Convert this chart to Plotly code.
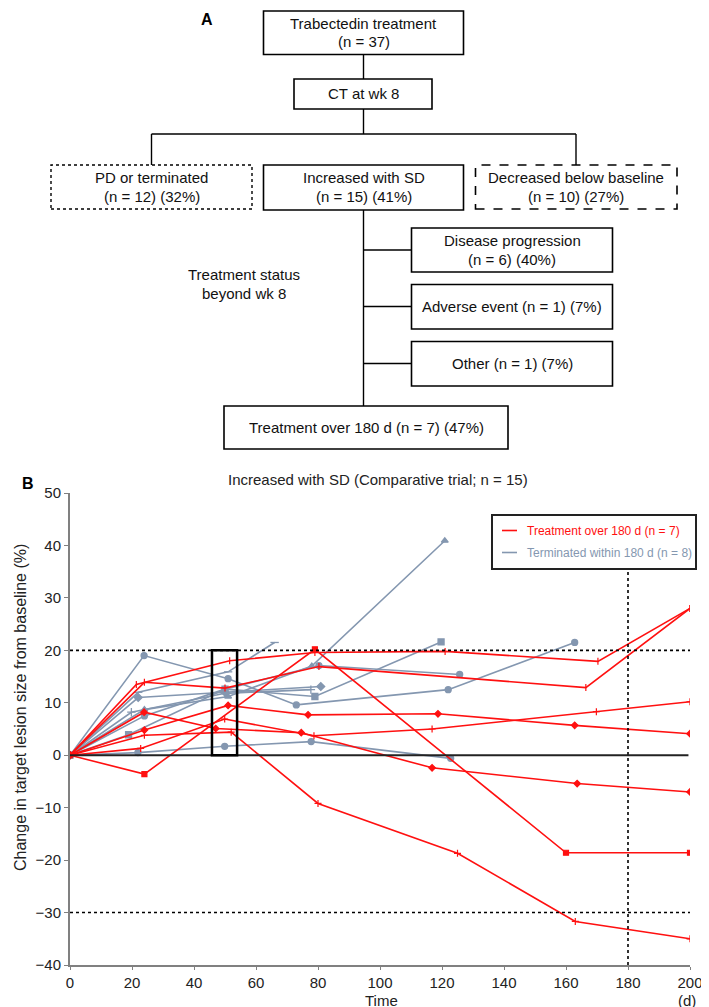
import plotly.graph_objects as go

# ---------------- data (panel B) ----------------
red_days = [
    [0, 24, 79, 160, 200],
    [0, 24, 52, 80, 125, 163, 200],
    [0, 22.8, 49.9, 78.7, 116.8, 169.8, 200],
    [0, 24, 51, 76.8, 118.7, 162.8, 200],
    [0, 23.9, 47, 74.6, 116.8, 163.6, 200],
    [0, 21.4, 51.5, 79, 121, 170.3, 200],
    [0, 24, 50, 80.3, 166.4, 200],
]
red_vals = [
    [0, -3.6, 20.2, -18.6, -18.6],
    [0, 3.8, 4.4, -9.2, -18.7, -31.7, -35.0],
    [0, 1.3, 6.9, 3.7, 5.0, 8.3, 10.2],
    [0, 4.8, 9.5, 7.7, 7.9, 5.7, 4.1],
    [0, 8.2, 5.1, 4.3, -2.4, -5.4, -7.0],
    [0, 13.5, 18.0, 19.6, 19.8, 17.9, 28.0],
    [0, 13.9, 12.8, 16.9, 12.9, 28.0],
]
red_symbols = ["square", "cross-thin", "cross-thin", "diamond", "diamond", "line-ns", "line-ns"]

gray_days = [
    [0, 24, 51, 78, 120.9],
    [0, 18.9, 50, 79, 119.7],
    [0, 23.9, 51, 73, 122, 162.8],
    [0, 24, 50, 80.3, 125.7],
    [0, 22, 51, 66],
    [0, 22, 50, 80.9],
    [0, 19.8, 50, 77.7],
    [0, 21.9, 49.9, 77.8, 122.8],
]
gray_vals = [
    [0, 8.7, 11.2, 17.0, 40.9],
    [0, 3.9, 12.6, 11.2, 21.6],
    [0, 19.0, 14.6, 9.6, 12.5, 21.5],
    [0, 7.5, 12.6, 17.1, 15.4],
    [0, 12.0, 15.9, 21.5],
    [0, 11.0, 12.0, 13.1],
    [0, 8.2, 11.8, 12.5],
    [0, 0.5, 1.7, 2.6, -0.6],
]
gray_symbols = ["triangle-up", "square", "circle", "circle", "line-ew", "diamond", "cross-thin", "circle"]

x_ticks = [0, 20, 40, 60, 80, 100, 120, 140, 160, 180, 200]
y_ticks = [-40, -30, -20, -10, 0, 10, 20, 30, 40, 50]
legend_labels = ["Treatment over 180 d (n = 7)", "Terminated within 180 d (n = 8)"]

RED = "#ff1010"
GRAY = "#8497b0"

W, H = 709, 1007
PL, PR, PT, PB = 62, 682, 485, 957


def px(x):
    return (x - PL) / (PR - PL)


def py(y):
    return (PB - y) / (PB - PT)


fig = go.Figure()

for d, v, s in zip(gray_days, gray_vals, gray_symbols):
    fig.add_trace(go.Scatter(
        x=d, y=v, mode="lines+markers", showlegend=False,
        line=dict(color=GRAY, width=1.6),
        marker=dict(symbol=s, size=6, color=GRAY, line=dict(color=GRAY, width=1.3)),
    ))

for d, v, s in zip(red_days, red_vals, red_symbols):
    fig.add_trace(go.Scatter(
        x=d, y=v, mode="lines+markers", showlegend=False,
        line=dict(color=RED, width=1.6),
        marker=dict(symbol=s, size=5, color=RED, line=dict(color=RED, width=1.2)),
    ))

shapes = []
# reference lines
shapes.append(dict(type="line", xref="x", yref="y", x0=0, x1=200, y0=20, y1=20,
                   line=dict(color="black", width=1.6, dash="dot")))
shapes.append(dict(type="line", xref="x", yref="y", x0=0, x1=200, y0=-30, y1=-30,
                   line=dict(color="black", width=1.6, dash="dot")))
shapes.append(dict(type="line", xref="x", yref="y", x0=180, x1=180, y0=-40, y1=35.4,
                   line=dict(color="black", width=1.6, dash="dot")))
shapes.append(dict(type="line", xref="x", yref="y", x0=0, x1=199.5, y0=0, y1=0,
                   line=dict(color="#222222", width=2)))
# highlight box at wk 8
shapes.append(dict(type="rect", xref="x", yref="y", x0=45.8, x1=53.9, y0=0, y1=20,
                   line=dict(color="black", width=2.5)))

# legend box (drawn manually)
shapes.append(dict(type="rect", xref="paper", yref="paper", x0=px(484), x1=px(688),
                   y0=py(561), y1=py(507), line=dict(color="#222222", width=2),
                   fillcolor="white", layer="above"))
shapes.append(dict(type="line", xref="paper", yref="paper", x0=px(494), x1=px(509),
                   y0=py(522.5), y1=py(522.5), line=dict(color=RED, width=1.6)))
shapes.append(dict(type="line", xref="paper", yref="paper", x0=px(494), x1=px(509),
                   y0=py(544.5), y1=py(544.5), line=dict(color=GRAY, width=1.6)))

# ---------------- flowchart (panel A) ----------------
def box(x0, y0, x1, y1, dash="solid", width=1.6):
    shapes.append(dict(type="rect", xref="paper", yref="paper",
                       x0=px(x0), x1=px(x1), y0=py(y1), y1=py(y0),
                       line=dict(color="black", width=width, dash=dash)))


def seg(x0, y0, x1, y1):
    shapes.append(dict(type="line", xref="paper", yref="paper",
                       x0=px(x0), x1=px(x1), y0=py(y0), y1=py(y1),
                       line=dict(color="black", width=1.4)))


box(255.5, 3, 455.5, 46.5)
box(286, 71, 424, 101)
seg(355.5, 46.5, 355.5, 71)
seg(355.5, 101, 355.5, 126)
seg(143.5, 126, 568, 126)
seg(143.5, 126, 143.5, 157)
seg(568, 126, 568, 157)
box(43, 157, 244, 201, dash="dot", width=1.4)
box(255.5, 157, 455.5, 202)
box(467.5, 157, 669, 201, dash="dash", width=1.6)
seg(355.5, 202, 355.5, 398)
box(403.5, 220, 604.5, 264)
box(403.5, 276.5, 604.5, 321)
box(403.5, 333.5, 604.5, 378)
seg(355.5, 242, 403.5, 242)
seg(355.5, 298.5, 403.5, 298.5)
seg(355.5, 355.5, 403.5, 355.5)
box(216, 398, 500, 441)

FLOW_FONT = dict(family="Liberation Sans Narrow, Arial Narrow, Liberation Sans, Arial", size=15, color="#111111")
annotations = []


def text(x, y, s, font=FLOW_FONT, xanchor="center"):
    annotations.append(dict(xref="paper", yref="paper", x=px(x), y=py(y), text=s,
                            showarrow=False, font=font, xanchor=xanchor, yanchor="middle"))


text(355.5, 15, "Trabectedin treatment")
text(355.5, 33.5, "(n = 37)")
text(355.5, 86, "CT at wk 8")
text(143.5, 169.5, "PD or terminated")
text(143.5, 188, "(n = 12) (32%)")
text(355.5, 169.5, "Increased with SD")
text(355.5, 188, "(n = 15) (41%)")
text(568, 169.5, "Decreased below baseline")
text(568, 188, "(n = 10) (27%)")
text(504, 232.5, "Disease progression")
text(504, 251, "(n = 6) (40%)")
text(504, 298.5, "Adverse event (n = 1) (7%)")
text(504, 355.5, "Other (n = 1) (7%)")
text(236, 267, "Treatment status")
text(236, 285, "beyond wk 8")
text(358, 419.5, "Treatment over 180 d (n = 7) (47%)")

BOLD = dict(family="Liberation Sans, Arial", size=16, color="black")
text(199, 12, "<b>A</b>", font=BOLD)
text(20, 475, "<b>B</b>", font=BOLD)

CH = dict(family="Liberation Sans, Arial", size=15, color="#222222")
text(370, 471, "Increased with SD (Comparative trial; n = 15)", font=CH)
text(517, 522.5, legend_labels[0], font=dict(family="Liberation Sans, Arial", size=12, color=RED), xanchor="left")
text(517, 544.5, legend_labels[1], font=dict(family="Liberation Sans, Arial", size=12, color=GRAY), xanchor="left")
text(374, 992.5, "Time", font=dict(family="Liberation Sans, Arial", size=15, color="#222222"))
text(690, 992.5, "(d)", font=dict(family="Liberation Sans, Arial", size=15, color="#222222"), xanchor="right")
annotations.append(dict(xref="paper", yref="paper", x=px(12), y=py(700),
                        text="Change in target lesion size from baseline (%)", textangle=-90,
                        showarrow=False, font=dict(family="Liberation Sans, Arial", size=16, color="#222222"),
                        xanchor="center", yanchor="middle"))

fig.update_layout(
    width=W, height=H, autosize=False,
    margin=dict(l=PL, r=W - PR, t=PT, b=H - PB),
    paper_bgcolor="white", plot_bgcolor="white",
    shapes=shapes, annotations=annotations,
    showlegend=False,
    font=dict(family="Liberation Sans, Arial", size=15, color="#222222"),
)
fig.update_xaxes(range=[0, 200], tickvals=x_ticks, showgrid=False, zeroline=False,
                 showline=True, linecolor="#808080", linewidth=2, ticks="outside",
                 ticklen=3, tickcolor="#808080", tickfont=dict(size=15))
fig.update_yaxes(range=[-40, 50], tickvals=y_ticks, showgrid=False, zeroline=False,
                 showline=True, linecolor="#808080", linewidth=2, ticks="outside",
                 ticklen=4, tickcolor="#808080", tickfont=dict(size=15))

fig.write_html("out.html")
